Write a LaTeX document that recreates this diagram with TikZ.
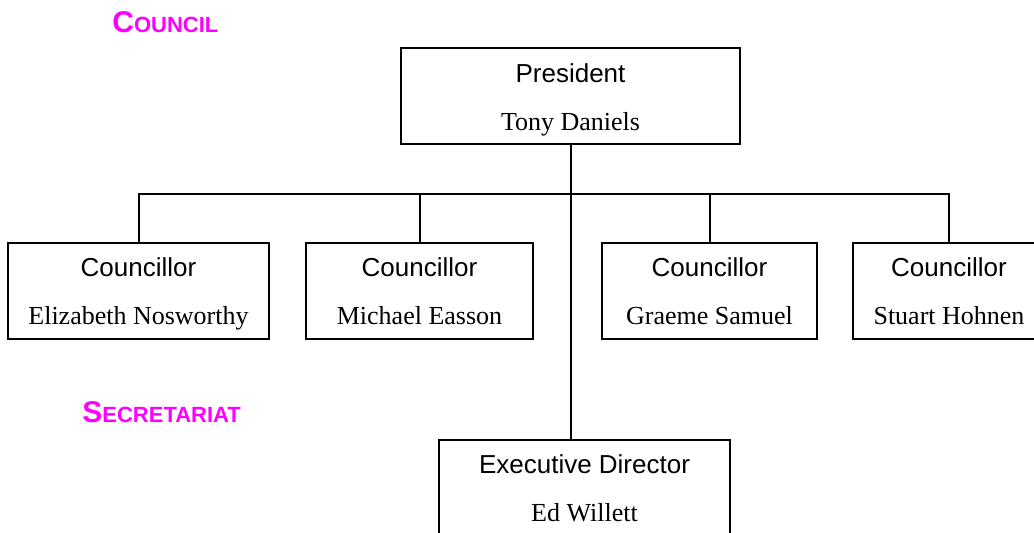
\documentclass[tikz,border=0pt]{standalone}
\usepackage{fontspec}
\setmainfont{Liberation Serif}
\setsansfont{Liberation Sans}
\definecolor{headpink}{RGB}{255,0,255}
\begin{document}
\begin{tikzpicture}[
    x=0.5pt, y=-0.5pt,
    post/.style={rectangle, minimum height=48pt, inner sep=0pt, align=center, draw=black, line width=1pt, font=\fontsize{13}{24}\selectfont},
    head/.style={anchor=base west, inner sep=0pt, text=headpink, font=\sffamily\bfseries},
    link/.style={line width=1pt}
  ]
    \clip (0,0) rectangle (1034,533);

    \node[head] (council) at (112,33) {{\fontsize{15}{15}\selectfont C}{\fontsize{11}{11}\selectfont OUNCIL}};
    \node[head] (secretariat) at (82,423) {{\fontsize{15}{15}\selectfont S}{\fontsize{11}{11}\selectfont ECRETARIAT}};

    \node[post, minimum width=169.5pt] (pres) at (570.5,96.5) {{\sffamily President\strut}\\Tony Daniels\strut};
    \node[post, minimum width=130.5pt] (nosworthy) at (138.5,291) {{\sffamily Councillor\strut}\\Elizabeth Nosworthy\strut};
    \node[post, minimum width=113.5pt] (easson) at (419.5,291) {{\sffamily Councillor\strut}\\Michael Easson\strut};
    \node[post, minimum width=107.5pt] (samuel) at (709.5,291) {{\sffamily Councillor\strut}\\Graeme Samuel\strut};
    \node[post, minimum width=96pt] (hohnen) at (949,291) {{\sffamily Councillor\strut}\\Stuart Hohnen\strut};
    \node[post, minimum width=145.5pt] (exec) at (584.5,488) {{\sffamily Executive Director\strut}\\Ed Willett\strut};

    \coordinate (bus) at (0,194);

    \draw[link] (nosworthy.north) -- (nosworthy.north |- bus) -- (hohnen.north |- bus) -- (hohnen.north);
    \draw[link] (easson.north) -- (easson.north |- bus);
    \draw[link] (samuel.north) -- (samuel.north |- bus);
    \draw[link] (pres.south) -- (pres.south |- exec.north);


  \end{tikzpicture}
\end{document}
